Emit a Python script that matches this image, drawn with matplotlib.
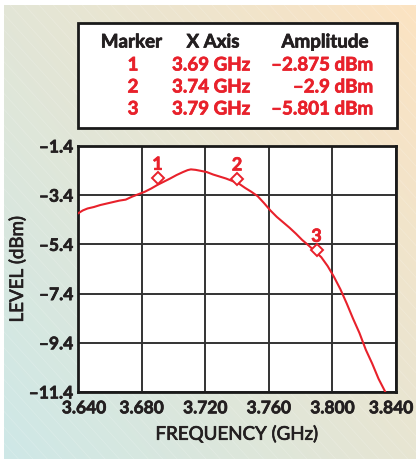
import numpy as np
import matplotlib
matplotlib.use("Agg")
import matplotlib.pyplot as plt
from matplotlib import transforms
from matplotlib import patheffects as pe
from matplotlib.patches import Rectangle

plt.rcParams["font.family"] = ["Lato", "DejaVu Sans"]
plt.rcParams["font.weight"] = "bold"

# Swept response trace
freq_ghz = [3.6400, 3.6430, 3.6460, 3.6500, 3.6540, 3.6580, 3.6620, 3.6660,
            3.6700, 3.6740, 3.6780, 3.6820, 3.6860, 3.6900, 3.6940, 3.6980,
            3.7020, 3.7060, 3.7090, 3.7110, 3.7140, 3.7180, 3.7210, 3.7250,
            3.7290, 3.7330, 3.7370, 3.7410, 3.7450, 3.7490, 3.7530, 3.7570,
            3.7610, 3.7650, 3.7690, 3.7730, 3.7770, 3.7810, 3.7850, 3.7890,
            3.7930, 3.7970, 3.8010, 3.8050, 3.8090, 3.8130, 3.8170, 3.8210,
            3.8250, 3.8290, 3.8333]
level_dbm = [-4.14, -4.02, -3.94, -3.88, -3.80, -3.74, -3.68, -3.62,
             -3.58, -3.46, -3.36, -3.26, -3.13, -2.98, -2.85, -2.72,
             -2.58, -2.46, -2.38, -2.35, -2.37, -2.42, -2.46, -2.56,
             -2.64, -2.72, -2.82, -2.92, -3.10, -3.26, -3.44, -3.72,
             -4.02, -4.28, -4.50, -4.72, -4.96, -5.22, -5.44, -5.68,
             -5.92, -6.28, -6.72, -7.22, -7.80, -8.42, -9.00, -9.68,
             -10.24, -10.86, -11.40]

# Marker readouts
marker_ids = ["1", "2", "3"]
marker_freq = [3.69, 3.74, 3.79]
marker_amp = [-2.875, -2.9, -5.801]

x_ticks = [3.640, 3.680, 3.720, 3.760, 3.800, 3.840]
y_ticks = [-1.4, -3.4, -5.4, -7.4, -9.4, -11.4]

RED = "#e8212b"
INK = "#231f20"
W, H = 416, 459


def heavy(color):
    # thicken glyphs a little
    return [pe.withStroke(linewidth=0.5, foreground=color)]


fig = plt.figure(figsize=(W / 100, H / 100), dpi=100)

# gradient backdrop, teal at lower left to peach at upper right
bg = fig.add_axes([4 / W, 0, 1 - 4 / W, 1 - 5 / H])
bg.set_axis_off()
gx, gy = np.meshgrid(np.linspace(0, 1, 200), np.linspace(0, 1, 200))
t = np.clip((gx * 0.55 + (1 - gy) * 0.45), 0, 1)[..., None]
teal = np.array([206, 232, 231]) / 255
peach = np.array([252, 227, 194]) / 255
bg.imshow(teal * (1 - t) + peach * t, extent=[0, 1, 0, 1], aspect="auto", origin="upper")
for k in np.arange(-1.0, 2.0, 0.035):
    bg.plot([k, k + 1], [1, 0], color="white", lw=0.6, alpha=0.18)
bg.set_xlim(0, 1)
bg.set_ylim(0, 1)

# main plot
ax = fig.add_axes([78 / W, 1 - 392 / H, 318 / W, 246 / H])
ax.set_facecolor("white")
ax.plot(freq_ghz, level_dbm, color=RED, lw=1.5, zorder=3, clip_on=True)

lift = transforms.offset_copy(ax.transData, fig=fig, x=0, y=4, units="dots")
num_lift = transforms.offset_copy(ax.transData, fig=fig, x=0, y=18, units="dots")
for mid, mf, ma in zip(marker_ids, marker_freq, marker_amp):
    ax.plot(mf, ma, marker="D", ms=6.5, mfc="white", mec=RED, mew=1.4,
            transform=lift, zorder=4)
    ax.text(mf, ma, mid, transform=num_lift, color=RED, fontsize=13,
            ha="center", va="center", zorder=4, path_effects=heavy(RED))

ax.set_xlim(3.640, 3.840)
ax.set_ylim(-11.4, -1.4)
ax.set_xticks(x_ticks)
ax.set_yticks(y_ticks)
ax.set_xticklabels([f"{v:.3f}" for v in x_ticks])
ax.set_yticklabels([f"{v:.1f}".replace("-", "\u2013") for v in y_ticks])
ax.grid(True, color="#333333", lw=1.4)
ax.tick_params(length=0, labelsize=12.5, colors=INK)
ax.tick_params(axis="x", pad=6)
ax.tick_params(axis="y", pad=3.5)
for lab in ax.get_xticklabels() + ax.get_yticklabels():
    lab.set_path_effects(heavy(INK))
# end labels sit a little inward of their gridlines
xlabs = ax.get_xticklabels()
for lab, dx in [(xlabs[0], 6), (xlabs[-1], -5)]:
    lab.set_transform(lab.get_transform() +
                      transforms.ScaledTranslation(dx / 100, 0, fig.dpi_scale_trans))
for s in ax.spines.values():
    s.set_linewidth(2)
    s.set_color("#1a1a1a")
ax.set_xlabel("FREQUENCY (GHz)", fontsize=13.5, color=INK, labelpad=6,
              path_effects=heavy(INK))
ax.set_ylabel("LEVEL (dBm)", fontsize=13.5, color=INK, labelpad=2,
              path_effects=heavy(INK))

# marker readout table
fig.patches.append(Rectangle((78 / W, 1 - 127.5 / H), 319 / W, 105 / H,
                             transform=fig.transFigure, facecolor="white",
                             edgecolor="#1a1a1a", lw=2, zorder=1))


def fy(py):
    return 1 - py / H


for label, px in [("Marker", 131.5), ("X Axis", 213), ("Amplitude", 325)]:
    fig.text(px / W, fy(42), label, ha="center", va="center", fontsize=13.5,
             color=INK, path_effects=heavy(INK))
for i, (mid, mf, ma) in enumerate(zip(marker_ids, marker_freq, marker_amp)):
    py = 65 + i * 22
    fig.text(133 / W, fy(py), mid, ha="center", va="center", fontsize=13.5,
             color=RED, path_effects=heavy(RED))
    fig.text(250 / W, fy(py), f"{mf:.2f} GHz", ha="right", va="center",
             fontsize=13.5, color=RED, path_effects=heavy(RED))
    fig.text(373 / W, fy(py), f"{ma:g} dBm".replace("-", "\u2013"), ha="right",
             va="center", fontsize=13.5, color=RED, path_effects=heavy(RED))

fig.savefig("out.png", dpi=100)
